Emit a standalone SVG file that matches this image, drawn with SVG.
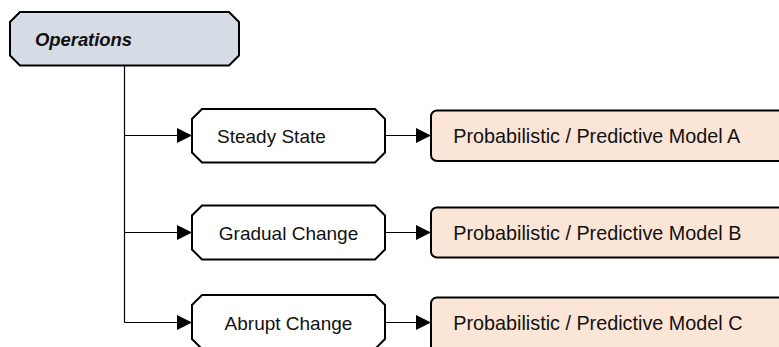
<svg xmlns="http://www.w3.org/2000/svg" width="779" height="347" viewBox="0 0 779 347">
<defs>
<marker id="ah" markerUnits="userSpaceOnUse" markerWidth="16" markerHeight="16" viewBox="0 0 16 16" refX="15" refY="8" orient="auto">
<path d="M0,0.5 L15,8 L0,15.5 Z" fill="#000"/>
</marker>
</defs>
<style>
.hex{fill:#fff;stroke:#000;stroke-width:2}
.top{fill:#d6dce5;stroke:#000;stroke-width:2}
.mdl{fill:#fbe5d6;stroke:#000;stroke-width:2}
.con{fill:none;stroke:#000;stroke-width:1.2}
text{font-family:"Liberation Sans",Arial,sans-serif;fill:#111;font-size:19px}
.ops{font-weight:bold;font-style:italic;font-size:18.5px}
.mt{font-size:19.8px}
</style>
<rect width="779" height="347" fill="#fff"/>
<g id="connectors">
<path class="con" d="M124.5,65.5 V322.5"/>
<path class="con" d="M124.5,135.5 H192" marker-end="url(#ah)"/>
<path class="con" d="M124.5,232.5 H192" marker-end="url(#ah)"/>
<path class="con" d="M124.5,322.5 H192" marker-end="url(#ah)"/>
<path class="con" d="M385,135.5 H431" marker-end="url(#ah)"/>
<path class="con" d="M385,232.5 H431" marker-end="url(#ah)"/>
<path class="con" d="M385,322.5 H431" marker-end="url(#ah)"/>
</g>
<g id="operations">
<path class="top" d="M20,12 H229 L239,22 V55.5 L229,65.5 H20 L10,55.5 V22 Z"/>
<text class="ops" x="35" y="45.7" textLength="97">Operations</text>
</g>
<g id="steady-state">
<path class="hex" d="M202,109 H375 L385,119 V152.5 L375,162.5 H202 L192,152.5 V119 Z"/>
<text x="217" y="143.3">Steady State</text>
</g>
<g id="gradual-change">
<path class="hex" d="M202,205.5 H375 L385,215.5 V249.5 L375,259.5 H202 L192,249.5 V215.5 Z"/>
<text x="288.5" y="240" text-anchor="middle">Gradual Change</text>
</g>
<g id="abrupt-change">
<path class="hex" d="M202,295 H375 L385,305 V339 L375,349 H202 L192,339 V305 Z"/>
<text x="288.5" y="330" text-anchor="middle">Abrupt Change</text>
</g>
<g id="model-a">
<rect class="mdl" x="431" y="110.5" width="380" height="50.5" rx="6"/>
<text class="mt" x="453.3" y="143.3">Probabilistic / Predictive Model A</text>
</g>
<g id="model-b">
<rect class="mdl" x="431" y="207.5" width="380" height="50" rx="6"/>
<text class="mt" x="453.3" y="240">Probabilistic / Predictive Model B</text>
</g>
<g id="model-c">
<rect class="mdl" x="431" y="297.5" width="380" height="60" rx="6"/>
<text class="mt" x="453.3" y="330">Probabilistic / Predictive Model C</text>
</g>
</svg>
